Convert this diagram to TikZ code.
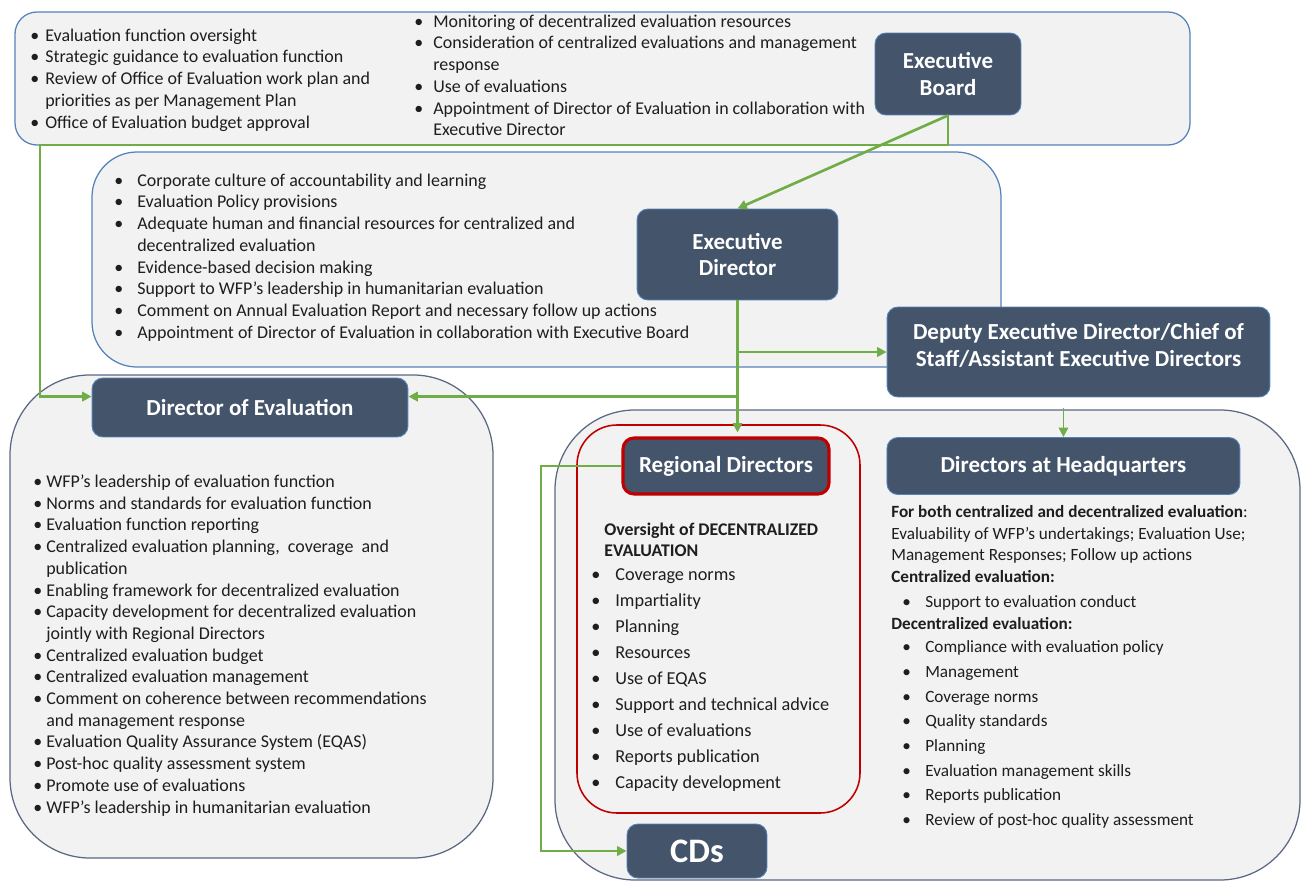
\documentclass[tikz,border=0pt]{standalone}
\usepackage{fontspec}
\setmainfont{Carlito}
\usetikzlibrary{arrows.meta}
\usetikzlibrary{positioning}

\definecolor{slate}{RGB}{68,84,106}
\definecolor{panelgray}{RGB}{242,242,242}
\definecolor{panelblue}{RGB}{84,130,186}
\definecolor{paneldark}{RGB}{90,104,130}
\definecolor{linkgreen}{RGB}{112,173,71}
\definecolor{rdred}{RGB}{192,0,0}
\definecolor{textgray}{RGB}{30,30,30}

\newlength\px \setlength\px{0.6402pt}
\newcommand{\bul}[1]{\makebox[#1\px][l]{\textbullet}}
\newcommand{\ind}[1]{\hspace*{#1\px}}

\begin{document}
\begin{tikzpicture} [
    x=0.0225cm, y=-0.0225cm,
    panel/.style = { draw=panelblue, fill=panelgray, line width=0.8pt },
    head/.style  = { rectangle, draw=panelblue, line width=0.6pt, fill=slate,
                     text=white, align=center, rounded corners=7pt, inner sep=0pt,
                     font=\bfseries\fontsize{14.7}{17}\selectfont },
    list/.style  = { anchor=north west, inner sep=0pt, align=left, text=textgray,
                     font=\fontsize{11.5}{13.9}\selectfont },
    line/.style  = { draw=linkgreen, line width=1.7pt, ->,
                     >={Triangle[length=6pt,width=6pt]} },
  ]
\useasboundingbox (0,0) rectangle (1303,883);

\draw[panel, rounded corners=22\px] (15,12) rectangle (1190,145);
\draw[panel, rounded corners=45\px] (92,152) rectangle (1001,367);
\draw[panel, draw=paneldark, rounded corners=80\px] (10,375) rectangle (493,858);
\draw[panel, draw=paneldark, rounded corners=80\px] (555,410) rectangle (1300,880);
\draw[rdred, line width=1pt, rounded corners=40\px] (577,425) rectangle (860,813);

\node (boardL) [list] at (30,28.5) {%
  \bul{15}Evaluation function oversight\\
  \bul{15}Strategic guidance to evaluation function\\
  \bul{15}Review of Office of Evaluation work plan and\\
  \ind{15}priorities as per Management Plan\\
  \bul{15}Office of Evaluation budget approval};
\node (boardR) [list] at (414,14.5) {%
  \bul{19}Monitoring of decentralized evaluation resources\\
  \bul{19}Consideration of centralized evaluations and management\\
  \ind{19}response\\
  \bul{19}Use of evaluations\\
  \bul{19}Appointment of Director of Evaluation in collaboration with\\
  \ind{19}Executive Director};
\node (edlist) [list] at (114,173.5) {%
  \bul{23}Corporate culture of accountability and learning\\
  \bul{23}Evaluation Policy provisions\\
  \bul{23}Adequate human and financial resources for centralized and\\
  \ind{23}decentralized evaluation\\
  \bul{23}Evidence-based decision making\\
  \bul{23}Support to WFP’s leadership in humanitarian evaluation\\
  \bul{23}Comment on Annual Evaluation Report and necessary follow up actions\\
  \bul{23}Appointment of Director of Evaluation in collaboration with Executive Board};
\node (doelist) [list] at (33,474.5) {%
  \bul{13}WFP’s leadership of evaluation function\\
  \bul{13}Norms and standards for evaluation function\\
  \bul{13}Evaluation function reporting\\
  \bul{13}Centralized evaluation planning,\ \ coverage\ \ and\\
  \ind{13}publication\\
  \bul{13}Enabling framework for decentralized evaluation\\
  \bul{13}Capacity development for decentralized evaluation\\
  \ind{13}jointly with Regional Directors\\
  \bul{13}Centralized evaluation budget\\
  \bul{13}Centralized evaluation management\\
  \bul{13}Comment on coherence between recommendations\\
  \ind{13}and management response\\
  \bul{13}Evaluation Quality Assurance System (EQAS)\\
  \bul{13}Post-hoc quality assessment system\\
  \bul{13}Promote use of evaluations\\
  \bul{13}WFP’s leadership in humanitarian evaluation};
\node (rdhead) [list, font=\bfseries\fontsize{11.4}{13.4}\selectfont] at (604,522.5)
  {Oversight of DECENTRALIZED\\EVALUATION};
\node (rdlist) [list, font=\fontsize{11.7}{16.6}\selectfont] at (591,568.5) {%
  \bul{24}Coverage norms\\
  \bul{24}Impartiality\\
  \bul{24}Planning\\
  \bul{24}Resources\\
  \bul{24}Use of EQAS\\
  \bul{24}Support and technical advice\\
  \bul{24}Use of evaluations\\
  \bul{24}Reports publication\\
  \bul{24}Capacity development};
\node (hqlist) [list, font=\fontsize{11}{13.8}\selectfont] at (891,505.5) {%
  \textbf{For both centralized and decentralized evaluation}:\\
  Evaluability of WFP’s undertakings; Evaluation Use;\\
  Management Responses; Follow up actions\\
  \textbf{Centralized evaluation:}\\[2.2pt]
  \ind{11}\bul{23}Support to evaluation conduct\\[0.3pt]
  \textbf{Decentralized evaluation:}\\[1pt]
  \ind{11}\bul{23}Compliance with evaluation policy\\[2pt]
  \ind{11}\bul{23}Management\\[2pt]
  \ind{11}\bul{23}Coverage norms\\[2pt]
  \ind{11}\bul{23}Quality standards\\[2pt]
  \ind{11}\bul{23}Planning\\[2pt]
  \ind{11}\bul{23}Evaluation management skills\\[2pt]
  \ind{11}\bul{23}Reports publication\\[2pt]
  \ind{11}\bul{23}Review of post-hoc quality assessment};

\node (EB) [head, minimum width=146\px, minimum height=82\px] at (948,74) {Executive\\Board};
\node (ED) [head, minimum width=201\px, minimum height=91\px] at (737.5,254.5) {Executive\\Director};
\node (DED) [head, minimum width=383\px, minimum height=90\px] at (1078.5,352)
  {Deputy Executive Director/Chief of\\Staff/Assistant Executive Directors\\[-8pt]};
\node (DoE) [head, minimum width=316\px, minimum height=59\px] at (250,407.5) {Director of Evaluation};
\node (RD) [head, draw=rdred, line width=2pt, minimum width=206\px, minimum height=56\px] at (726,466) {Regional Directors};
\node (HQ) [head, minimum width=353\px, minimum height=57\px, right=56\px of RD] {Directors at Headquarters};
\node (CDs) [head, minimum width=140\px, minimum height=54\px, font=\bfseries\fontsize{22}{24}\selectfont] at (697,851) {CDs};

\coordinate (ebturn) at (40,145);
\coordinate (cdturn) at (541,850);
\coordinate (doeleft) at ([yshift=7pt]DoE.west);
\coordinate (doeright) at ([yshift=7pt]DoE.east);

\begin{scope}[every path/.style=line]
\path (EB.south) |- (ebturn) |- (doeleft);
\path (EB.south) -- (ED.north);
\path[shorten >=4\px] (ED.south) -- (ED.south |- RD.north);
\path (ED.south |- DED.west) -- (DED.west);
\path (ED.south |- doeright) -- (doeright);
\path[line width=1.2pt, shorten <=7pt] (HQ.north |- DED.south) -- (HQ.north);
\path (RD.west) -| (cdturn) |- (CDs.west);
\end{scope}

\end{tikzpicture}
\end{document}
